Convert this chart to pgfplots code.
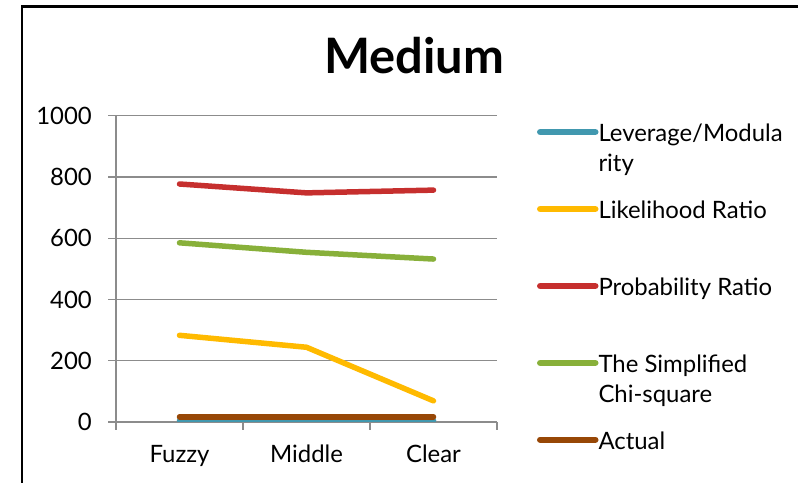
\documentclass[border=0pt]{standalone}
\usepackage{fontspec}
\setmainfont{Lato}
\usepackage{pgfplots}
\pgfplotsset{compat=1.18}
\definecolor{cblue}{HTML}{4198AF}
\definecolor{cyellow}{HTML}{FFBA00}
\definecolor{cred}{HTML}{C62F2E}
\definecolor{cgreen}{HTML}{88B03A}
\definecolor{cbrown}{HTML}{974706}
\definecolor{cgrid}{HTML}{8C8C8C}
\newcommand{\lgent}[1]{\raisebox{0pt}[\ht\strutbox][\dp\strutbox]{\begin{tabular}[t]{@{}l@{}}#1\end{tabular}}}
\begin{document}
\begin{tikzpicture}[x=1bp,y=1bp]
\useasboundingbox (0,0) rectangle (798,483);
\clip (0,0) rectangle (798,483);
\draw[line width=2.2bp] (22,-10) -- (22,476.5) -- (810,476.5);
\node[font=\fontsize{49}{52}\selectfont\bfseries] at (414,427) {Medium};
\begin{axis}[
  at={(116bp,61bp)}, anchor=south west,
  scale only axis, width=381bp, height=306.3bp,
  xmin=-0.5, xmax=2.5, ymin=0, ymax=1000,
  axis lines*=left,
  axis line style={cgrid, line width=1.3bp},
  xtick={-0.5,0.5,1.5,2.5}, xticklabels={},
  extra x ticks={0,1,2},
  extra x tick labels={Fuzzy,Middle,Clear},
  extra x tick style={major tick length=0pt, grid=none},
  ytick={0,200,400,600,800,1000},
  ymajorgrids,
  grid style={cgrid, line width=1.3bp},
  tick style={cgrid, line width=1.3bp},
  tick align=outside, major tick length=8bp,
  every tick label/.append style={font=\fontsize{24}{28}\selectfont},
  /pgf/number format/assume math mode=true,
  yticklabel style={inner sep=0pt, xshift=-16bp, /pgf/number format/1000 sep={}},
  xticklabel style={anchor=base, inner sep=0pt, yshift=-41bp},
  legend style={draw=none, fill=none, inner sep=0pt, outer sep=0pt,
    at={(1.105,0.983)}, anchor=north west, row sep=54.5bp,
    font=\fontsize{24}{30}\selectfont,
    nodes={inner sep=0pt}},
  legend cell align=left,
  legend image code/.code={\draw[#1, line width=6.5bp, line cap=round] (0bp,0bp) -- (55bp,0bp);},
  every axis plot/.append style={line width=5.5bp, line cap=round, line join=round},
]
\addplot[cblue] coordinates {(0,5) (1,5) (2,5)};
\addlegendentry{\lgent{Leverage/Modula\\rity}}
\addplot[cyellow] coordinates {(0,283) (1,244) (2,69)};
\addlegendentry{\lgent{Likelihood Ratio}}
\addplot[cred] coordinates {(0,777) (1,748) (2,757)};
\addlegendentry{\lgent{Probability Ratio}}
\addplot[cgreen] coordinates {(0,585) (1,554) (2,532)};
\addlegendentry{\lgent{The Simplified\\Chi-square}}
\addplot[cbrown] coordinates {(0,17) (1,17) (2,17)};
\addlegendentry{\lgent{Actual}}
\end{axis}
\end{tikzpicture}
\end{document}
